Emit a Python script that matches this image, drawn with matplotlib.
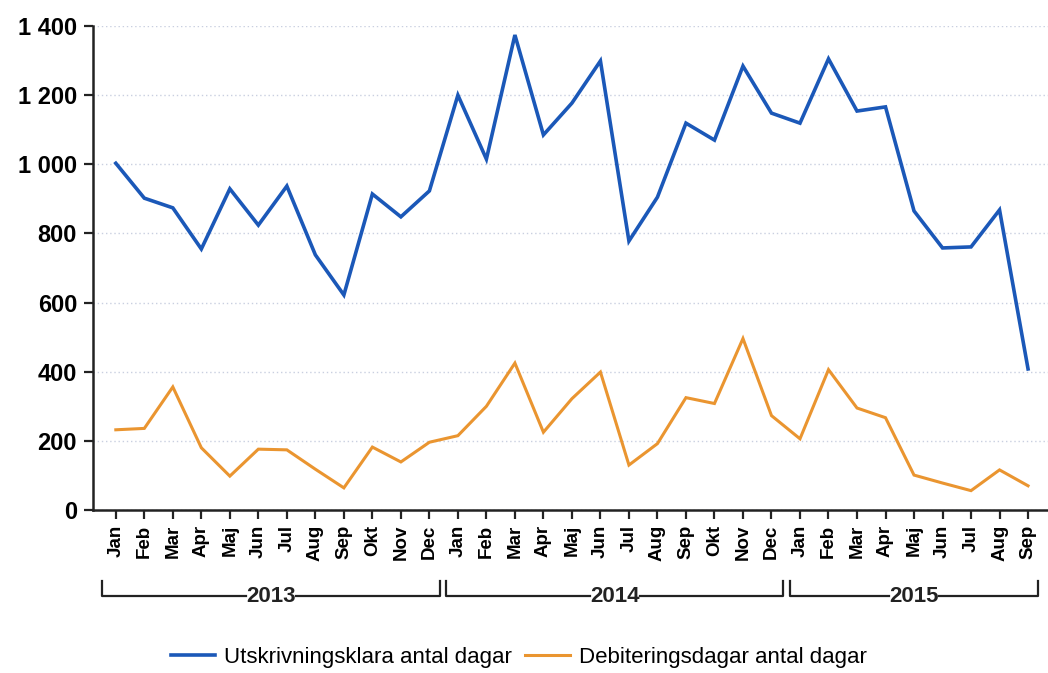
import matplotlib
matplotlib.use("Agg")
import matplotlib.pyplot as plt
import matplotlib.transforms as mtransforms
import numpy as np

months = ["Jan", "Feb", "Mar", "Apr", "Maj", "Jun", "Jul", "Aug", "Sep", "Okt", "Nov", "Dec"]
years = ["2013", "2014", "2015"]
month_labels = months * 2 + months[:9]

utskrivning = [1003, 902, 874, 755, 929, 824, 937, 738, 622, 914, 848, 923,
               1200, 1015, 1374, 1085, 1177, 1299, 778, 905, 1119, 1070, 1284, 1148,
               1119, 1305, 1154, 1166, 865, 758, 761, 868, 408]
debitering = [232, 236, 356, 180, 98, 176, 174, 118, 64, 182, 139, 196,
              215, 300, 425, 225, 322, 399, 130, 192, 325, 308, 496, 273,
              206, 406, 295, 267, 101, 78, 56, 116, 70]
series_names = ["Utskrivningsklara antal dagar", "Debiteringsdagar antal dagar"]

blue = "#1b58b8"
orange = "#ea9530"

plt.rcParams["font.family"] = ["Liberation Sans", "DejaVu Sans"]

fig = plt.figure(figsize=(10.48, 6.73), dpi=100)
ax = fig.add_axes([93 / 1048, 1 - 510 / 673, (1048 - 93) / 1048, (510 - 26) / 673])

x = np.arange(len(month_labels))
l1, = ax.plot(x, utskrivning, color=blue, lw=2.6, solid_joinstyle="miter")
l2, = ax.plot(x, debitering, color=orange, lw=2.2, solid_joinstyle="miter")

ax.set_ylim(0, 1400)
ax.set_xlim(-0.8, 32.7)
ax.set_yticks(np.arange(0, 1401, 200))
ax.set_yticklabels([f"{v:,}".replace(",", " ") for v in range(0, 1401, 200)],
                   fontsize=17, fontweight="bold")
ax.set_xticks(x)
ax.set_xticklabels(month_labels, rotation=90, fontsize=13.5, fontweight="bold")
ax.tick_params(axis="both", direction="out", length=6.5, width=1.6, color="#222222")
ax.tick_params(axis="y", pad=5)
ax.tick_params(axis="x", pad=4)

for s in ["top", "right"]:
    ax.spines[s].set_visible(False)
for s in ["left", "bottom"]:
    ax.spines[s].set_linewidth(1.8)
    ax.spines[s].set_color("#222222")

ax.grid(axis="y", linestyle=(0, (1, 2)), color="#c9cfe0", lw=1)
ax.set_axisbelow(True)

# year brackets below the month labels
trans = mtransforms.blended_transform_factory(ax.transData, ax.transAxes)
y_line = -0.178
y_top = -0.146
bracket_ends = [(-0.5, 11.37), (11.6, 23.4), (23.65, 32.35)]
for yr, (x0, x1) in zip(years, bracket_ends):
    xm = (x0 + x1) / 2
    txt_half = 0.88
    ax.plot([x0, x0, xm - txt_half], [y_top, y_line, y_line], transform=trans,
            color="#222222", lw=1.6, clip_on=False)
    ax.plot([xm + txt_half, x1, x1], [y_line, y_line, y_top], transform=trans,
            color="#222222", lw=1.6, clip_on=False)
    ax.text(xm, y_line, yr, transform=trans, ha="center", va="center",
            fontsize=16, fontweight="bold", color="#222222")

fig.legend([l1, l2], series_names, loc="center", bbox_to_anchor=(0.495, 1 - 657 / 673),
           ncol=2, frameon=False, fontsize=16, handlelength=2.0, handletextpad=0.4,
           columnspacing=0.6)

fig.savefig("out.png", dpi=100)
